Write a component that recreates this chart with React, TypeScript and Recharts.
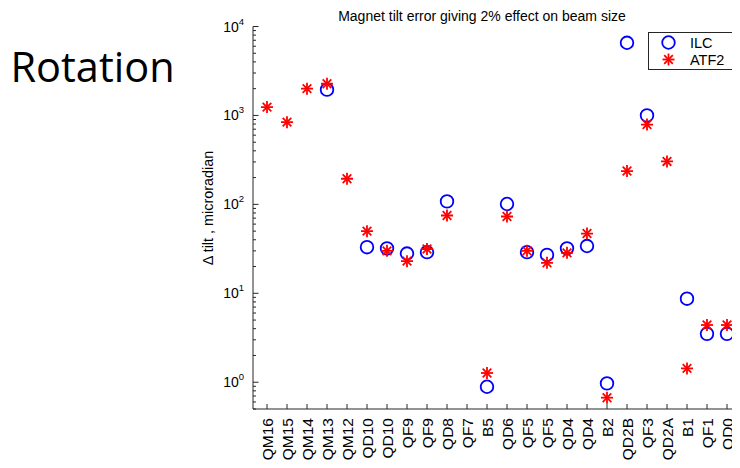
import React from 'react';
import { ScatterChart, Scatter, XAxis, YAxis, Legend } from 'recharts';

// Magnet names along the beamline, left to right
const magnets = [
  'QM16', 'QM15', 'QM14', 'QM13', 'QM12', 'QD10', 'QD10', 'QF9', 'QF9', 'QD8', 'QF7', 'B5',
  'QD6', 'QF5', 'QF5', 'QD4', 'QD4', 'B2', 'QD2B', 'QF3', 'QD2A', 'B1', 'QF1', 'QD0',
];

// Tilt tolerance (microradian) for a 2% beam size effect; null = not computed
const ilcTilt = [
  null, null, null, 1950, null, 33, 32, 28, 29, 108, null, 0.89,
  101, 29, 27, 32, 34, 0.97, 6560, 1000, null, 8.7, 3.5, 3.5,
];
const atf2Tilt = [
  1240, 840, 2000, 2270, 194, 50, 30, 23, 31.5, 75, null, 1.27,
  73, 30, 22, 28.5, 47, 0.67, 237, 790, 304, 1.43, 4.4, 4.4,
];

const yMajorTicks = [1, 10, 100, 1000, 10000];
const yMinorTicks = [
  0.5, 0.6, 0.7, 0.8, 0.9,
  2, 3, 4, 5, 6, 7, 8, 9,
  20, 30, 40, 50, 60, 70, 80, 90,
  200, 300, 400, 500, 600, 700, 800, 900,
  2000, 3000, 4000, 5000, 6000, 7000, 8000, 9000,
];
const yTicks = [...yMinorTicks, ...yMajorTicks].sort((a, b) => a - b);
const xTicks = magnets.map((_, i) => i + 1);

const toPoints = (vals: (number | null)[]) =>
  vals
    .map((v, i) => (v == null ? null : { pos: i + 1, name: magnets[i], tilt: v }))
    .filter((p) => p !== null);

const ilcData = toPoints(ilcTilt);
const atf2Data = toPoints(atf2Tilt);

const FONT = '"Liberation Sans", Arial, Helvetica, sans-serif';
const AXIS = '#262626';
const BLUE = '#0000ff';
const RED = '#ff0000';

const isMajor = (v: number) => yMajorTicks.includes(v);

const RingMark = ({ cx, cy }: any) => (
  <circle cx={cx} cy={cy} r={6.3} fill="none" stroke={BLUE} strokeWidth={1.8} />
);

const StarMark = ({ cx, cy }: any) => {
  const r = 6;
  const d = r * 0.72;
  return (
    <g stroke={RED} strokeWidth={1.8} strokeLinecap="butt">
      <line x1={cx - r} y1={cy} x2={cx + r} y2={cy} />
      <line x1={cx} y1={cy - r} x2={cx} y2={cy + r} />
      <line x1={cx - d} y1={cy - d} x2={cx + d} y2={cy + d} />
      <line x1={cx - d} y1={cy + d} x2={cx + d} y2={cy - d} />
    </g>
  );
};

const BottomTick = ({ x, y, payload }: any) => (
  <g>
    <line x1={x} x2={x} y1={y} y2={y - 5} stroke={AXIS} />
    <text
      transform={`translate(${x + 5.6},${y + 9}) rotate(-90)`}
      textAnchor="end"
      fontSize={15.5}
      fontFamily={FONT}
      fill="#000"
    >
      {magnets[payload.value - 1]}
    </text>
  </g>
);

const TopTick = ({ x, y }: any) => (
  <line x1={x} x2={x} y1={y} y2={y + 5} stroke={AXIS} />
);

const LeftTick = ({ x, y, payload }: any) => {
  const v = payload.value;
  if (!isMajor(v)) return <line x1={x} x2={x + 3} y1={y} y2={y} stroke={AXIS} />;
  const exp = Math.round(Math.log10(v));
  return (
    <g>
      <line x1={x} x2={x + 5.5} y1={y} y2={y} stroke={AXIS} />
      <text x={x - 9} y={y + 5} textAnchor="end" fontSize={14} fontFamily={FONT} fill="#000">
        10
        <tspan dy={-7} fontSize={9.5}>{exp}</tspan>
      </text>
    </g>
  );
};

const RightTick = ({ x, y, payload }: any) => (
  <line x1={x} x2={x - (isMajor(payload.value) ? 5.5 : 3)} y1={y} y2={y} stroke={AXIS} />
);

const LegendBox = () => (
  <svg width={88} height={38} style={{ display: 'block' }}>
    <rect x={0.5} y={0.5} width={87} height={37} fill="#fff" stroke={AXIS} />
    <RingMark cx={20.5} cy={10.5} />
    <text x={42} y={15.5} fontSize={14.5} fontFamily={FONT} fill="#000">ILC</text>
    <StarMark cx={20.5} cy={27.5} />
    <text x={42} y={32.5} fontSize={14.5} fontFamily={FONT} fill="#000">ATF2</text>
  </svg>
);

export default function App() {
  const W = 732;
  const H = 460;
  return (
    <div style={{ position: 'relative', width: W, height: H }}>
      <ScatterChart width={W} height={H} margin={{ top: 18.5, right: 2, bottom: 0, left: 0 }}>
        <XAxis
          xAxisId="bottom"
          dataKey="pos"
          type="number"
          domain={[0.3, 24.55]}
          ticks={xTicks}
          interval={0}
          allowDataOverflow
          height={59}
          tickSize={0}
          tickMargin={0}
          tickLine={false}
          stroke={AXIS}
          tick={<BottomTick />}
        />
        <XAxis
          xAxisId="top"
          orientation="top"
          type="number"
          domain={[0.3, 24.55]}
          ticks={xTicks}
          interval={0}
          allowDataOverflow
          height={0}
          tickSize={0}
          tickMargin={0}
          tickLine={false}
          stroke={AXIS}
          tick={<TopTick />}
        />
        <YAxis
          yAxisId="left"
          dataKey="tilt"
          type="number"
          scale="log"
          domain={[0.5, 10000]}
          ticks={yTicks}
          interval={0}
          allowDataOverflow
          width={245}
          tickSize={0}
          tickMargin={0}
          tickLine={false}
          stroke={AXIS}
          tick={<LeftTick />}
        />
        <YAxis
          yAxisId="right"
          orientation="right"
          type="number"
          scale="log"
          domain={[0.5, 10000]}
          ticks={yTicks}
          interval={0}
          allowDataOverflow
          width={0}
          tickSize={0}
          tickMargin={0}
          tickLine={false}
          stroke={AXIS}
          tick={<RightTick />}
        />
        <Legend
          layout="vertical"
          align="center"
          verticalAlign="middle"
          wrapperStyle={{ left: 640, top: 23.5, width: 88, height: 38 }}
          content={<LegendBox />}
        />
        <Scatter
          name="ILC"
          data={ilcData}
          xAxisId="bottom"
          yAxisId="left"
          shape={<RingMark />}
          isAnimationActive={false}
        />
        <Scatter
          name="ATF2"
          data={atf2Data}
          xAxisId="bottom"
          yAxisId="left"
          shape={<StarMark />}
          isAnimationActive={false}
        />
      </ScatterChart>
      {/* Captions around the plot, in chart-container coordinates */}
      <svg
        width={W}
        height={H}
        style={{ position: 'absolute', left: 0, top: 0, pointerEvents: 'none' }}
      >
        <text x={2.5} y={74} fontSize={41.5} fontFamily='"Open Sans", sans-serif' fill="#000">
          Rotation
        </text>
        <text x={474} y={12.8} textAnchor="middle" fontSize={14} fontFamily={FONT} fill="#000">
          Magnet tilt error giving 2% effect on beam size
        </text>
        <text
          transform="translate(205,200) rotate(-90)"
          textAnchor="middle"
          fontSize={14.4}
          fontFamily={FONT}
          fill="#000"
        >
          Δ tilt , microradian
        </text>
      </svg>
    </div>
  );
}
